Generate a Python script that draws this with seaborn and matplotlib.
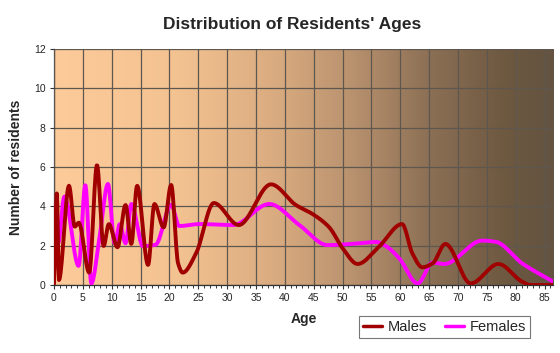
import numpy as np
import pandas as pd
import matplotlib
matplotlib.use("Agg")
import matplotlib.pyplot as plt
from matplotlib.colors import LinearSegmentedColormap
from matplotlib.lines import Line2D
import seaborn as sns

# 读图得到的数据（年龄, 人数），取曲线的转折点
male_age = [0, 0.5, 0.85, 2.6, 3.6, 4.3, 6.1, 7.45, 8.6, 9.5, 11.0, 12.4, 13.4, 14.4,
            16.3, 17.4, 19.0, 20.3, 21.5, 22.3, 24.6, 27.7, 32.0, 37.6, 41.9, 44.8,
            47.7, 50.0, 52.6, 56.3, 60.3, 62.1, 63.8, 65.6, 67.8, 72.2, 77.0, 81.1,
            82.6, 86.5]
male_n = [0, 4.67, 0.25, 5.05, 2.97, 3.17, 0.63, 6.1, 1.98, 3.1, 1.92, 4.07, 2.09, 5.05,
          1.02, 4.12, 2.93, 5.09, 1.1, 0.63, 1.6, 4.17, 3.05, 5.12, 4.07, 3.61,
          2.93, 1.87, 1.07, 1.95, 3.1, 1.6, 0.9, 1.1, 2.09, 0.08, 1.07, 0.17,
          0.0, 0.0]

female_age = [0, 0.7, 1.8, 4.27, 5.43, 6.47, 7.9, 9.35, 10.5, 11.4, 12.4, 13.4, 15.4,
              17.6, 20.3, 21.7, 25.2, 31.0, 37.3, 42.5, 47.4, 52.0, 55.8, 57.5, 59.8,
              63.0, 65.6, 67.6, 74.2, 76.5, 81.1, 86.5]
female_n = [4.0, 2.1, 4.5, 0.97, 5.09, 0.08, 2.46, 5.14, 2.12, 3.1, 2.12, 4.12, 1.98,
            2.05, 4.07, 3.0, 3.1, 3.05, 4.12, 3.05, 2.03, 2.1, 2.19, 1.98, 1.36,
            0.08, 1.14, 1.07, 2.26, 2.2, 1.1, 0.17]


def smooth(x, y, n=900):
    # 分段三次 Hermite (PCHIP) 平滑，只用于画线
    x = np.asarray(x, float)
    y = np.asarray(y, float)
    h = np.diff(x)
    d = np.diff(y) / h
    m = np.zeros_like(y)
    for k in range(1, len(x) - 1):
        if d[k - 1] * d[k] > 0:
            w1 = 2 * h[k] + h[k - 1]
            w2 = h[k] + 2 * h[k - 1]
            m[k] = (w1 + w2) / (w1 / d[k - 1] + w2 / d[k])
    m[0] = d[0]
    m[-1] = d[-1]
    xs = np.linspace(x[0], x[-1], n)
    idx = np.clip(np.searchsorted(x, xs) - 1, 0, len(x) - 2)
    t = (xs - x[idx]) / h[idx]
    h00 = 2 * t**3 - 3 * t**2 + 1
    h10 = t**3 - 2 * t**2 + t
    h01 = -2 * t**3 + 3 * t**2
    h11 = t**3 - t**2
    ys = h00 * y[idx] + h10 * h[idx] * m[idx] + h01 * y[idx + 1] + h11 * h[idx] * m[idx + 1]
    return xs, ys


sns.set_style("white")
plt.rcParams['font.family'] = ['Liberation Sans', 'DejaVu Sans']

fig = plt.figure(figsize=(5.6, 3.53), dpi=100)
ax = fig.add_axes([0.0964, 0.1926, 0.8916, 0.6684])

xmax = 86.5
# 背景渐变
bg = LinearSegmentedColormap.from_list("bg", [
    (0.0, "#fdcb99"), (0.25, "#f3c291"), (0.45, "#d8aa7f"), (0.6, "#b8916e"),
    (0.75, "#8c7055"), (0.9, "#6e5941"), (1.0, "#635340")])
ax.imshow(np.linspace(0, 1, 256).reshape(1, -1), cmap=bg, aspect='auto',
          extent=[0, xmax, 0, 12], zorder=0)

mx, my = smooth(male_age, male_n)
fx, fy = smooth(female_age, female_n)
df = pd.concat([
    pd.DataFrame({"Age": fx, "n": fy, "sex": "Females"}),
    pd.DataFrame({"Age": mx, "n": my, "sex": "Males"}),
])
sns.lineplot(data=df, x="Age", y="n", hue="sex", hue_order=["Females", "Males"],
             palette={"Males": "#a00000", "Females": "#ff00ff"},
             linewidth=2.8, ax=ax, legend=False, zorder=3, sort=False)

ax.set_xlim(0, xmax)
ax.set_ylim(0, 12)
ax.set_xticks(range(0, 86, 5))
ax.set_xticks(range(0, 87), minor=True)
ax.set_yticks(range(0, 13, 2))
ax.grid(True, which='major', color='#5e5750', linewidth=0.9, zorder=1)
ax.set_axisbelow(False)
for s in ['top', 'right']:
    ax.spines[s].set_visible(False)
for s in ['left', 'bottom']:
    ax.spines[s].set_color('#333333')
    ax.spines[s].set_linewidth(0.9)
ax.tick_params(axis='both', which='major', labelsize=7.5, length=3, width=0.8,
               color='#333333', pad=3, bottom=True, left=True)
ax.tick_params(axis='x', which='minor', length=2.5, width=0.7, color='#333333', bottom=True)

ax.set_xlabel("Age", fontsize=10, fontweight='bold', labelpad=6)
ax.set_ylabel("Number of residents", fontsize=10, fontweight='bold', labelpad=8)
fig.text(0.521, 0.932, "Distribution of Residents' Ages", ha='center', va='center',
         fontsize=12.5, fontweight='bold')

handles = [Line2D([], [], color='#a00000', lw=2.5), Line2D([], [], color='#ff00ff', lw=2.5)]
leg = fig.legend(handles, ["Males", "Females"], loc='center', ncol=2,
                 bbox_to_anchor=(0.794, 0.0735), fontsize=10.5, frameon=True,
                 fancybox=False, handlelength=1.3, handletextpad=0.4,
                 columnspacing=1.2, borderpad=0.3)
leg.get_frame().set_edgecolor('#555555')
leg.get_frame().set_linewidth(0.8)

fig.savefig("out.png", dpi=100, facecolor='white')
